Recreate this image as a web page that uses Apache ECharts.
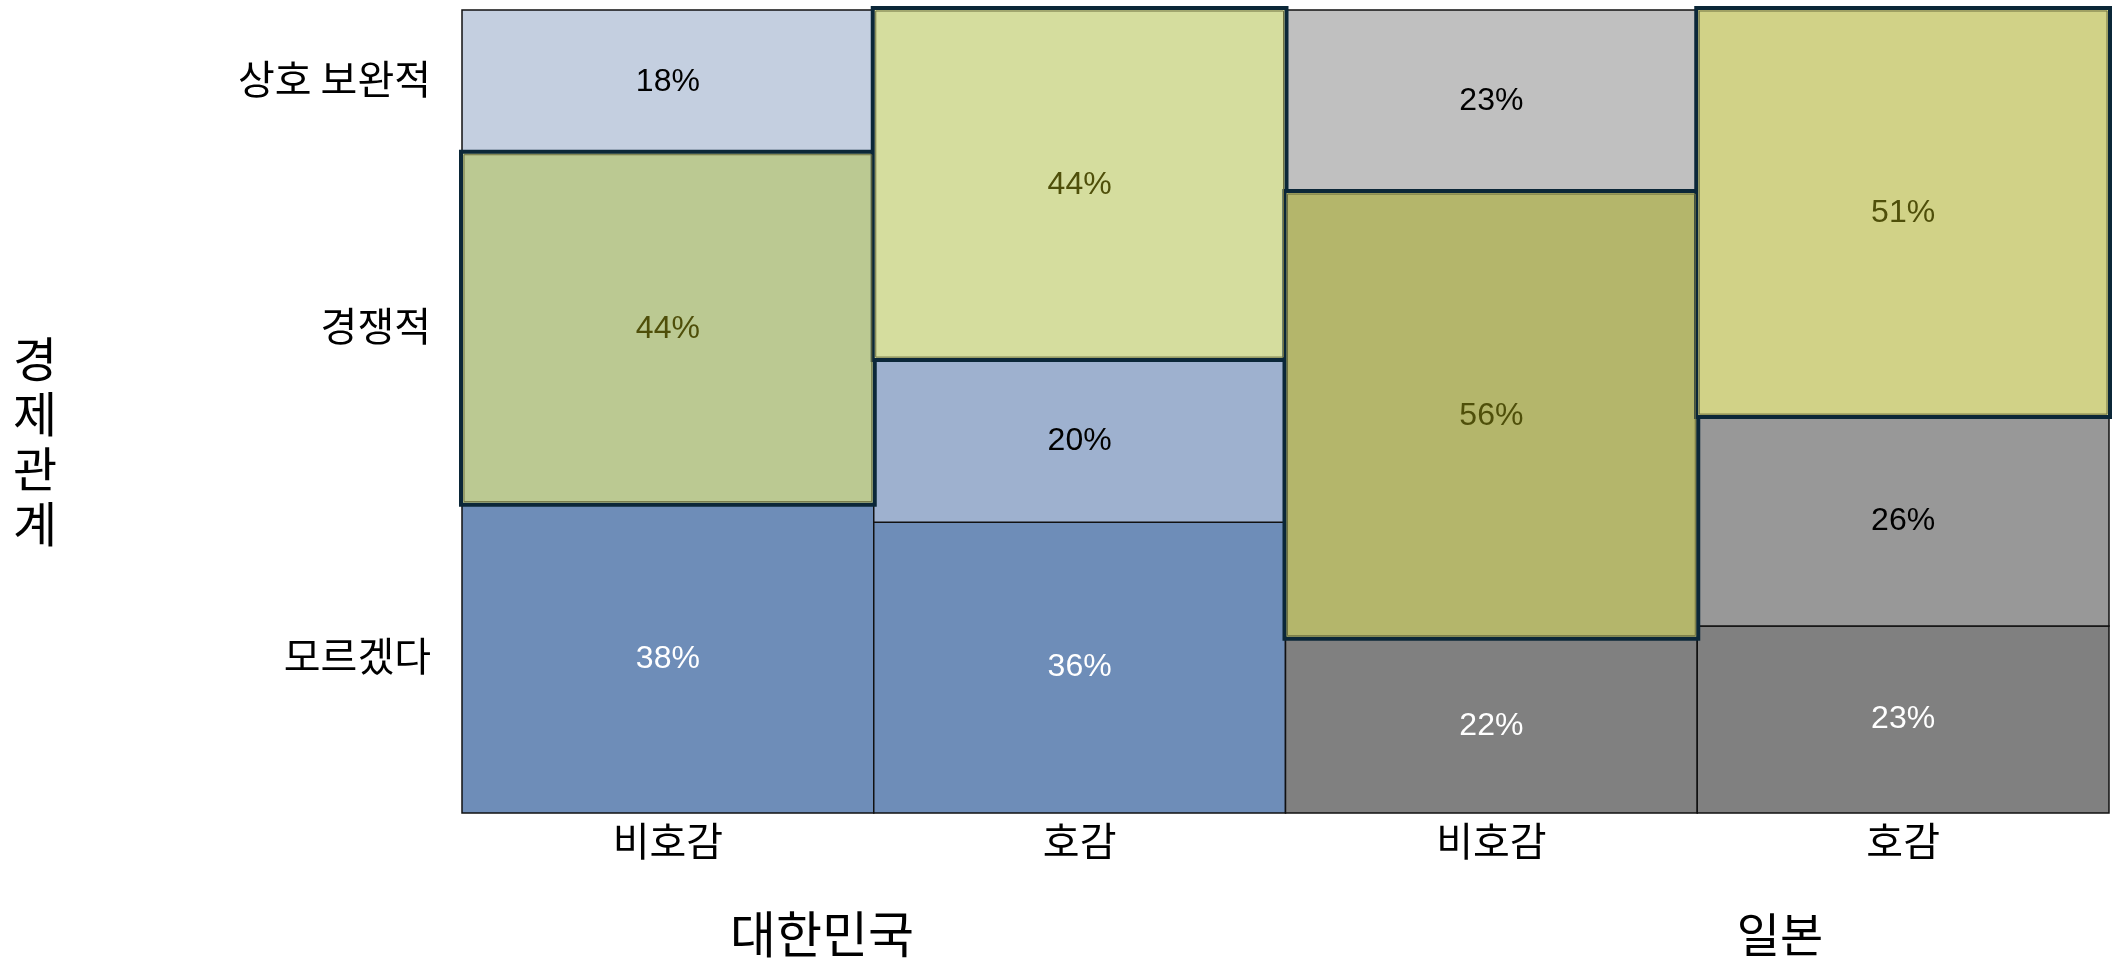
<!DOCTYPE html>
<html>
<head>
<meta charset="utf-8">
<script src="https://cdn.jsdelivr.net/npm/echarts@6/dist/echarts.min.js"></script>
<style>
  html, body { margin: 0; padding: 0; background: #fff; }
  #chart { width: 2113px; height: 973px; }
</style>
</head>
<body>
<div id="chart"></div>
<script>
// categories
const columns = ['비호감', '호감', '비호감', '호감'];
const groups = ['대한민국', '일본'];
const rows = ['모르겠다', '경쟁적', '상호 보완적']; // bottom -> top

// share of each answer within a column (%)
const unknownShare = [38.4, 36.2, 21.7, 23.3];
const competitiveShare = [43.7, 20.2, 55.5, 26.0];
const complementaryShare = [17.9, 43.6, 22.8, 50.7];

// styles per cell [row][col]
const fills = [
  ['#6e8db8', '#6e8db8', '#808080', '#808080'],
  ['#bbc992', '#9eb1cf', '#b4b66b', '#989898'],
  ['#c4cfe0', '#d5dd9e', '#c0c0c0', '#d1d287']
];
const marked = [
  [false, false, false, false],
  [true, false, true, false],
  [false, true, false, true]
];
const textColors = ['#ffffff', '#000000', '#000000'];
const markedText = '#4f4f0a';

const KR = '"Noto Sans CJK KR", sans-serif';
const NUM = '"Liberation Sans", Arial, sans-serif';

const shares = [unknownShare, competitiveShare, complementaryShare];
const cells = [];
columns.forEach((c, ci) => {
  let base = 0;
  shares.forEach((arr, ri) => {
    cells.push([ci, base, base + arr[ci], arr[ci], ri]);
    base += arr[ci];
  });
});

function renderCell(params, api) {
  const ci = api.value(0);
  const ri = api.value(4);
  const top = api.coord([ci, api.value(2)]);
  const bottom = api.coord([ci, api.value(1)]);
  const bw = api.size([1, 0])[0];
  const x = top[0] - bw / 2;
  const y = top[1];
  const h = bottom[1] - top[1];
  const hot = marked[ri][ci];
  const children = [];
  if (hot) {
    children.push({
      type: 'rect', z2: 10,
      shape: { x: x - 1, y: y - 2, width: bw + 2, height: h + 2 },
      style: { fill: fills[ri][ci], stroke: '#0b2738', lineWidth: 4 }
    });
    children.push({
      type: 'rect', z2: 11,
      shape: { x: x + 2, y: y + 1, width: bw - 4, height: h - 4 },
      style: { fill: null, stroke: '#6e7040', lineWidth: 1 }
    });
  } else {
    children.push({
      type: 'rect', z2: 1,
      shape: { x: x, y: y, width: bw, height: h },
      style: { fill: fills[ri][ci], stroke: '#111111', lineWidth: 1.5 }
    });
  }
  children.push({
    type: 'text', z2: 20,
    style: {
      x: x + bw / 2, y: y + h / 2,
      text: Math.round(api.value(3)) + '%',
      fill: hot ? markedText : textColors[ri],
      font: '32px ' + NUM,
      align: 'center', verticalAlign: 'middle'
    }
  });
  if (ci === 0) {
    children.push({
      type: 'text', z2: 20,
      style: {
        x: x - 31, y: y + h / 2 - 3,
        text: rows[ri],
        fill: '#000',
        font: '40px ' + KR,
        align: 'right', verticalAlign: 'middle'
      }
    });
  }
  return { type: 'group', children: children };
}

const chart = echarts.init(document.getElementById('chart'));
chart.setOption({
  animation: false,
  grid: { left: 462, right: 4, top: 10, bottom: 160 },
  xAxis: {
    type: 'category',
    data: columns,
    axisLine: { show: false },
    axisTick: { show: false },
    axisLabel: { fontFamily: KR, fontSize: 40, color: '#000', margin: 8 }
  },
  yAxis: {
    type: 'value', min: 0, max: 100,
    show: false
  },
  graphic: [
    {
      type: 'text',
      style: { x: 822, y: 934, text: groups[0], font: '50px ' + KR, fill: '#000', align: 'center', verticalAlign: 'middle' }
    },
    {
      type: 'text',
      style: { x: 1780, y: 934, text: groups[1], font: '47px ' + KR, fill: '#000', align: 'center', verticalAlign: 'middle' }
    },
    {
      type: 'text',
      style: { x: 35, y: 441, text: '경\n제\n관\n계', font: '48px ' + KR, lineHeight: 55, fill: '#000', align: 'center', verticalAlign: 'middle' }
    }
  ],
  series: [{
    type: 'custom',
    renderItem: renderCell,
    data: cells
  }]
});
</script>
</body>
</html>
